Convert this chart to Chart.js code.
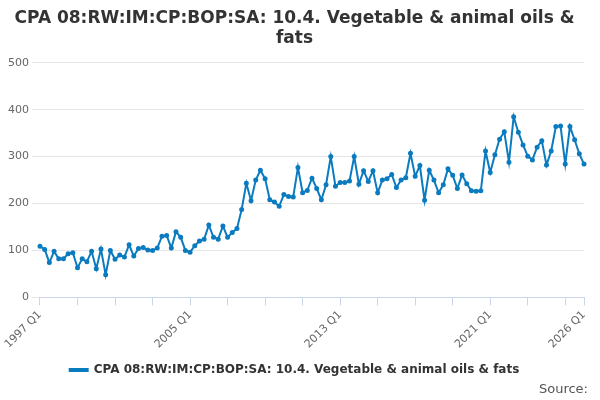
<!DOCTYPE html>
<html><head><meta charset="utf-8">
<script src="https://cdn.jsdelivr.net/npm/chart.js@4"></script>
<style>body{margin:0;background:#fff}#w{width:600px;height:400px;position:relative}
#src{position:absolute;right:12px;bottom:4px;font:13px "DejaVu Sans",sans-serif;color:#555}</style>
</head><body><div id="w"><canvas id="c"></canvas><div id="src">Source:</div></div>
<script>
const seriesName = "CPA 08:RW:IM:CP:BOP:SA: 10.4. Vegetable & animal oils & fats";
const startYear = 1997;
const values = [109,102,74,98,82,82,93,95,63,82,76,98,61,103,48,100,81,90,86,112,88,104,106,101,100,105,130,132,105,140,128,100,
96,110,120,124,154,128,124,152,128,138,147,187,243,206,250,271,253,208,203,194,219,215,214,277,223,228,254,232,208,240,300,237,
245,245,248,300,241,270,247,270,223,250,253,262,234,250,255,307,258,281,207,271,250,223,240,274,260,232,261,242,227,226,227,312,
266,304,337,353,288,385,352,325,301,293,320,334,282,312,364,365,284,364,336,306,284];
const labels = values.map((v,i)=> (startYear+Math.floor(i/4))+" Q"+(i%4+1));
const labelIdx = [0,32,64,96,116];
new Chart(document.getElementById('c'),{
 type:'line',
 data:{labels,datasets:[{label:seriesName,data:values,borderColor:'#0b7bc0',backgroundColor:'#0b7bc0',borderWidth:2,pointRadius:1.5,tension:0}]},
 options:{responsive:true,maintainAspectRatio:false,animation:false,
  layout:{padding:{left:5,right:16,bottom:14}},
  plugins:{title:{display:true,text:["CPA 08:RW:IM:CP:BOP:SA: 10.4. Vegetable & animal oils &","fats"],font:{family:"DejaVu Sans",size:17},color:'#333',padding:{top:8,bottom:14}},
   legend:{position:'bottom',labels:{boxWidth:18,boxHeight:2,font:{family:"DejaVu Sans",size:12,weight:'bold'},color:'#333'}}},
  scales:{
   x:{grid:{display:true,drawOnChartArea:false,color:'#ccd6eb',tickLength:8},border:{color:'#ccd6eb'},
      afterBuildTicks:(s)=>{s.ticks=s.ticks.filter(t=>t.value%8===0||t.value===116);},
      ticks:{autoSkip:false,maxRotation:45,minRotation:45,color:'#666',font:{family:"DejaVu Sans",size:11},
        callback:(v)=>labelIdx.includes(v)?labels[v]:''}},
   y:{min:0,max:500,ticks:{stepSize:100,color:'#666',font:{family:"DejaVu Sans",size:11}},grid:{color:'#e6e6e6'},border:{display:false}}
  }}
});
</script></body></html>
